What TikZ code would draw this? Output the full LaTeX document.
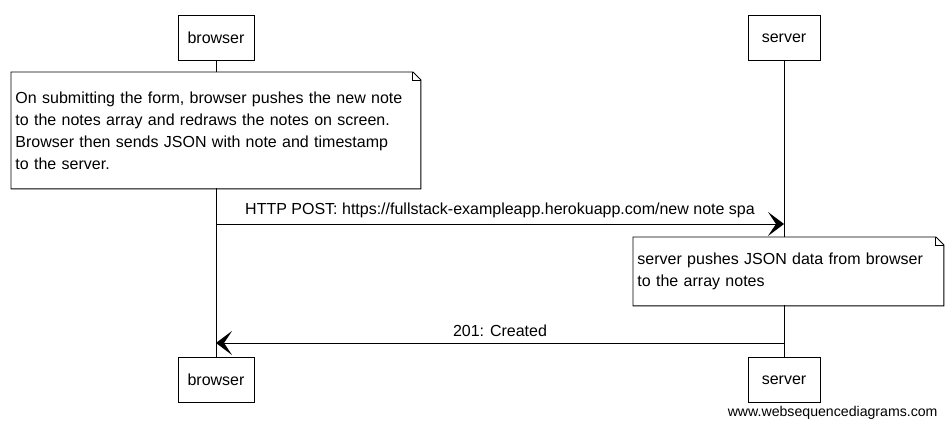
\documentclass[tikz,border=0pt]{standalone}
\usepackage{fontspec}
\setmainfont{Liberation Sans}
\usetikzlibrary{calc,arrows.meta}

\begin{document}
\begin{tikzpicture}[x=.75pt, y=-.75pt, line width=.7pt,
    font=\fontsize{12}{16.5}\selectfont,
    actor/.style={draw, fill=white, minimum height=34pt, inner sep=0pt},
    note/.style={fill=white, anchor=north west, align=left, inner xsep=3pt, inner ysep=0pt},
    msg/.style={-{Stealth[length=12pt, width=18pt, inset=6pt]}}]
    \def\xb{216} \def\xs{784}
    \def\f{6pt}
    \useasboundingbox (0, 0) rectangle (947, 427);

    % lifelines
    \node[actor, minimum width=57pt] (b1) at (\xb, 38) {browser};
    \node[actor, minimum width=54pt] (s1) at (\xs, 38) {server};
    \node[actor, minimum width=57pt] (b2) at (\xb, 380) {browser};
    \node[actor, minimum width=54pt] (s2) at (\xs, 380) {server};
    \draw (b1) -- (b2);
    \draw (s1) -- (s2);

    % notes
    \node[note, text width=300.75pt, minimum height=87pt] (note1) at (11, 72)
        {On submitting the form, browser pushes the new note\\
         to the notes array and redraws the notes on screen.\\
         Browser then sends JSON with note and timestamp\\
         to the server.};
    \node[note, text width=226.5pt, minimum height=51pt] (note2) at (633, 237)
        {server pushes JSON data from browser\\
         to the array notes};
    \foreach \n in {note1, note2} {
        \draw ($ (\n.north east) + (-\f, 0pt) $) -- (\n.north west) -- (\n.south west)
            -- (\n.south east) -- ($ (\n.north east) + (0pt, -\f) $) -- cycle;
        \draw ($ (\n.north east) + (-\f, 0pt) $) -- ++(0pt, -\f) -- ++(\f, 0pt);
    }

    % messages
    \coordinate (post b) at (\xb, 224);
    \coordinate (post s) at (\xs, 224);
    \coordinate (resp s) at (\xs, 343);
    \coordinate (resp b) at (\xb, 343);
    \draw[msg] (post b) -- (post s)
        node [midway, above=1pt] {HTTP POST: https://fullstack-exampleapp.herokuapp.com/new note spa};
    \draw[msg] (resp s) -- (resp b)
        node [midway, above=1pt] {201: Created};

    \node[anchor=south east, inner sep=0pt, font=\fontsize{10.6}{12}\selectfont] (wsd) at (938, 420)
        {www.websequencediagrams.com};
\end{tikzpicture}
\end{document}
